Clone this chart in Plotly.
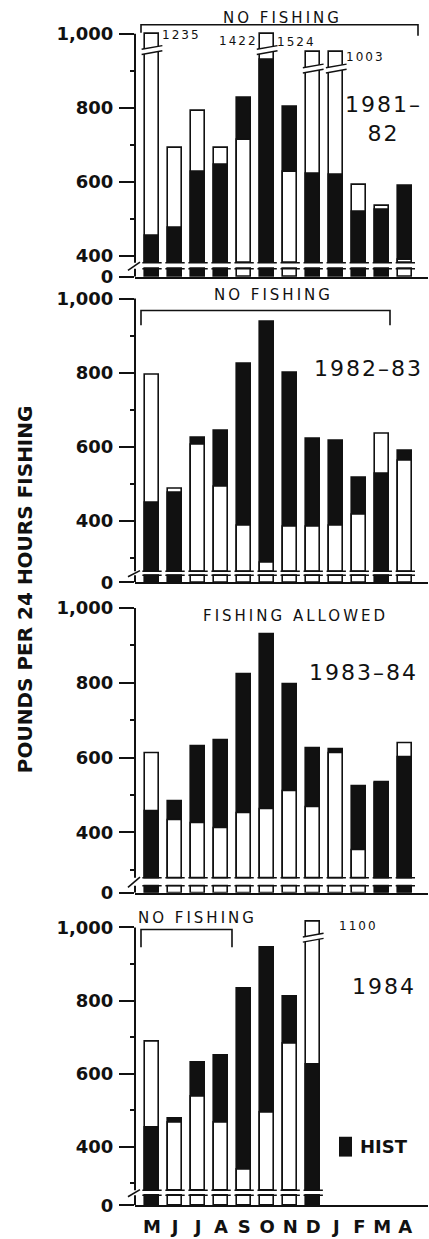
import plotly.graph_objects as go

# ---------------- data ----------------
MONTHS = ["M", "J", "J", "A", "S", "O", "N", "D", "J", "F", "M", "A"]

HIST_1981_82 = [455, 476, 628, 646, 828, 929, 802, 622, 620, 520, 524, 589]
CURR_1981_82 = [1235, 693, 791, 693, 713, 1422, 628, 1003, 1003, 591, 536, 390]

HIST_1982_83 = [448, 476, 624, 643, 825, 937, 800, 621, 617, 515, 526, 589]
CURR_1982_83 = [794, 486, 606, 491, 387, 287, 383, 383, 387, 415, 636, 562]

HIST_1983_84 = [457, 483, 630, 646, 824, 929, 797, 626, 622, 524, 532, 600]
CURR_1983_84 = [612, 433, 424, 411, 451, 462, 510, 466, 611, 353, 533, 637]

HIST_1984 = [451, 478, 630, 648, 832, 944, 810, 624, None, None, None, None]
CURR_1984 = [687, 466, 537, 465, 336, 494, 682, 1100, None, None, None, None]

YEAR_LABELS = ["1981–<br>82", "1982–83", "1983–84", "1984"]
PERIOD_NOTES = ["NO FISHING", "NO FISHING", "FISHING ALLOWED", "NO FISHING"]
Y_TICK_TEXT = ["0", "400", "600", "800", "1,000"]
Y_TITLE = "POUNDS PER 24 HOURS FISHING"
LEGEND_TEXT = "HIST"

# labels written next to the broken (off-scale) bars: (panel, month index, text)
BREAK_LABELS = [(0, 0, "1235"), (0, 5, "1422"), (0, 5, "1524"), (0, 8, "1003"), (3, 7, "1100")]

PANELS = [
    (HIST_1981_82, CURR_1981_82),
    (HIST_1982_83, CURR_1982_83),
    (HIST_1983_84, CURR_1983_84),
    (HIST_1984, CURR_1984),
]

# ---------------- layout geometry (pixels) ----------------
W, H = 429, 1239
X_AXIS_PX, X_RIGHT_PX = 135, 428
BAR0_PX, BAR_STEP_PX = 152, 23.03
X_RANGE = [-(BAR0_PX - X_AXIS_PX) / BAR_STEP_PX,
           (X_RIGHT_PX - BAR0_PX) / BAR_STEP_PX]
BAR_W = 0.61

# per panel: pixel of 1000, 400, 0, bar base, top of stub
GEOM = [
    dict(p1000=34, p400=258, p0=279, pbase=265, pstub=271),
    dict(p1000=301, p400=525, p0=587, pbase=576, pstub=580),
    dict(p1000=613, p400=839, p0=900, pbase=885, pstub=893),
    dict(p1000=935, p400=1156, p0=1215, pbase=1200, pstub=1205),
]
# top of the small box drawn above a broken bar
BREAK_BOX_TOP = {(0, 0): 1000, (0, 5): 1000, (0, 7): 950, (0, 8): 950, (3, 7): 1016}

INK = "#111111"
FONT = "DejaVu Sans"


def px(x):
    return x / W


def py(y):
    return 1 - y / H


fig = go.Figure()
shapes = []
annotations = []

for k, (hist, curr) in enumerate(PANELS):
    g = GEOM[k]
    s = 600.0 / (g["p400"] - g["p1000"])

    def val(p, g=g, s=s):
        return 400 - (p - g["p400"]) * s

    top_px = g["p1000"] - 22
    z0 = val(g["p0"])
    base = val(g["pbase"])
    stub_top = val(g["pstub"])
    xa = "x" if k == 0 else f"x{k + 1}"
    ya = "y" if k == 0 else f"y{k + 1}"

    xs = list(range(len(MONTHS)))
    back_y, back_c, front_y, front_c, stub_y, stub_c = [], [], [], [], [], []
    brk_x, brk_base = [], []
    for i in xs:
        h, c = hist[i], curr[i]
        if h is None or c is None:
            back_y.append(None); back_c.append("white")
            front_y.append(None); front_c.append("white")
            stub_y.append(None); stub_c.append("white")
            continue
        bt = BREAK_BOX_TOP.get((k, i))
        c_disp = c
        if bt is not None:
            c_disp = bt - 44
            brk_x.append(i)
            brk_base.append(bt - 44)
        if c >= h:
            back_y.append(c_disp - base); back_c.append("white")
            front_y.append(h - base); front_c.append(INK)
        else:
            back_y.append(h - base); back_c.append(INK)
            front_y.append(c_disp - base); front_c.append("white")
        stub_y.append(stub_top - z0)
        stub_c.append(front_c[-1])
        # small "feet" at the bar base and at the top of the stub
        for yy in (base, stub_top):
            shapes.append(dict(type="line", xref=xa, yref=ya, layer="above",
                               x0=i - 0.42, x1=i + 0.42, y0=yy, y1=yy,
                               line=dict(color=INK, width=1.5)))

    common = dict(x=xs, width=BAR_W, xaxis=xa, yaxis=ya, showlegend=False, hoverinfo="skip")
    fig.add_trace(go.Bar(y=back_y, base=base, marker=dict(color=back_c, line=dict(color=INK, width=1.6)), **common))
    fig.add_trace(go.Bar(y=front_y, base=base, marker=dict(color=front_c, line=dict(color=INK, width=1.6)), **common))
    fig.add_trace(go.Bar(y=stub_y, base=z0, marker=dict(color=stub_c, line=dict(color=INK, width=1.6)), **common))
    if brk_x:
        fig.add_trace(go.Bar(x=brk_x, y=[44] * len(brk_x), base=brk_base, width=BAR_W,
                             marker=dict(color="white", line=dict(color=INK, width=1.6)),
                             xaxis=xa, yaxis=ya, showlegend=False, hoverinfo="skip"))
        for i, b in zip(brk_x, brk_base):
            bt = b + 44
            shapes.append(dict(type="path", xref=xa, yref=ya, layer="above",
                               path=f"M {i-0.45},{bt-56} L {i+0.45},{bt-46} L {i+0.45},{bt-32} L {i-0.45},{bt-42} Z",
                               fillcolor="white", line=dict(width=0)))
            for dy0, dy1 in ((-56, -46), (-42, -32)):
                shapes.append(dict(type="line", xref=xa, yref=ya, layer="above",
                                   x0=i - 0.45, y0=bt + dy0, x1=i + 0.45, y1=bt + dy1,
                                   line=dict(color=INK, width=1.4)))

    # axes
    dom = [py(g["p0"]), py(top_px)]
    minor_vals = [v for v in (300, 500, 700, 900) if v > base]
    fig.update_layout(**{
        ("yaxis" if k == 0 else f"yaxis{k + 1}"): dict(
            domain=dom, range=[z0, val(top_px)], anchor=xa,
            tickvals=[z0, 400, 600, 800, 1000], ticktext=Y_TICK_TEXT,
            ticks="outside", ticklen=15, tickwidth=2, tickcolor=INK,
            ticklabelstandoff=2,
            tickfont=dict(family=FONT, size=18, color=INK, weight="bold"),
            minor=dict(tickvals=minor_vals, ticks="outside", ticklen=4, tickwidth=1.5, tickcolor=INK),
            showgrid=False, zeroline=False, showline=False, fixedrange=True),
        ("xaxis" if k == 0 else f"xaxis{k + 1}"): dict(
            domain=[px(X_AXIS_PX), px(X_RIGHT_PX)], range=X_RANGE, anchor=ya,
            showline=True, linecolor=INK, linewidth=2,
            tickvals=xs, ticktext=MONTHS, ticks="",
            showticklabels=(k == 3), ticklabelstandoff=4,
            tickfont=dict(family=FONT, size=18, color=INK, weight="bold"),
            showgrid=False, zeroline=False, fixedrange=True),
    })

    # broken y axis line
    dref = f"{xa} domain"
    shapes.append(dict(type="line", xref=dref, yref=ya, x0=0, x1=0, y0=base, y1=1000,
                       line=dict(color=INK, width=2)))
    shapes.append(dict(type="line", xref=dref, yref=ya, x0=0, x1=0, y0=z0, y1=stub_top,
                       line=dict(color=INK, width=2)))
    shapes.append(dict(type="line", xref=dref, yref=ya, x0=-0.024, x1=0.017,
                       y0=stub_top - 4, y1=base + 2, line=dict(color=INK, width=1.6)))

# year labels
year_pos = [(383, 120), (368, 371), (363, 678), (384, 995)]
for (x, y), t in zip(year_pos, YEAR_LABELS):
    annotations.append(dict(xref="paper", yref="paper", x=px(x), y=py(y), showarrow=False,
                            xanchor="center", yanchor="middle",
                            text=f'<span style="letter-spacing:2px">{t}</span>',
                            font=dict(family=FONT, size=22, color=INK), align="center"))

# period notes
note_pos = [(282, 18), (273, 297), (295, 621), (197, 925)]
for (x, y), t in zip(note_pos, PERIOD_NOTES):
    annotations.append(dict(xref="paper", yref="paper", x=px(x), y=py(y), showarrow=False,
                            xanchor="center", yanchor="middle",
                            text=f'<span style="letter-spacing:3px">{t}</span>',
                            font=dict(family=FONT, size=15, color=INK)))

# brackets (pixel paths converted to paper coordinates)
for path in ["M 141,33 L 141,25 L 418,25 L 418,36",
             "M 141,328 L 141,313 L 390,313 L 390,328",
             "M 141,955 L 141,937 L 232,937 L 232,955"]:
    out = []
    it = iter(path.split(" "))
    for cmd in it:
        xx, yy = map(float, next(it).split(","))
        out.append(f"{cmd} {px(xx):.5f},{py(yy):.5f}")
    shapes.append(dict(type="path", xref="paper", yref="paper", path=" ".join(out),
                       line=dict(color=INK, width=1.6)))

# break labels
label_offsets = {(0, 0, "1235"): (0.33, -4, "left"),
                 (0, 5, "1422"): (-0.33, -20, "right"),
                 (0, 5, "1524"): (0.33, -22, "left"),
                 (0, 8, "1003"): (0.33, -14, "left"),
                 (3, 7, "1100"): (1.05, -11, "left")}
for (k, i, t) in BREAK_LABELS:
    dx, dy, anc = label_offsets[(k, i, t)]
    xa = "x" if k == 0 else f"x{k + 1}"
    ya = "y" if k == 0 else f"y{k + 1}"
    annotations.append(dict(xref=xa, yref=ya, x=i + dx, y=BREAK_BOX_TOP[(k, i)] + dy,
                            xanchor=anc, yanchor="middle", showarrow=False,
                            text=f'<span style="letter-spacing:2px">{t}</span>',
                            font=dict(family=FONT, size=12, color=INK)))

# y title
annotations.append(dict(xref="paper", yref="paper", x=px(25), y=py(594), showarrow=False,
                        xanchor="center", yanchor="middle",
                        textangle=-90, text=Y_TITLE,
                        font=dict(family=FONT, size=20, color=INK, weight="bold")))

# legend
shapes.append(dict(type="rect", xref="paper", yref="paper", x0=px(339), x1=px(352),
                   y0=py(1166), y1=py(1146), fillcolor=INK, line=dict(width=0)))
annotations.append(dict(xref="paper", yref="paper", x=px(358), y=py(1156), xanchor="left",
                        yanchor="middle", showarrow=False, text=LEGEND_TEXT,
                        font=dict(family=FONT, size=18, color=INK, weight="bold")))

fig.update_layout(width=W, height=H, margin=dict(l=0, r=0, t=0, b=0),
                  paper_bgcolor="white", plot_bgcolor="white", barmode="overlay",
                  bargap=0, shapes=shapes, annotations=annotations, showlegend=False)

fig.write_html("out.html", config={"displayModeBar": False},
               post_script="document.body.style.margin='0';document.body.style.overflow='hidden';")
